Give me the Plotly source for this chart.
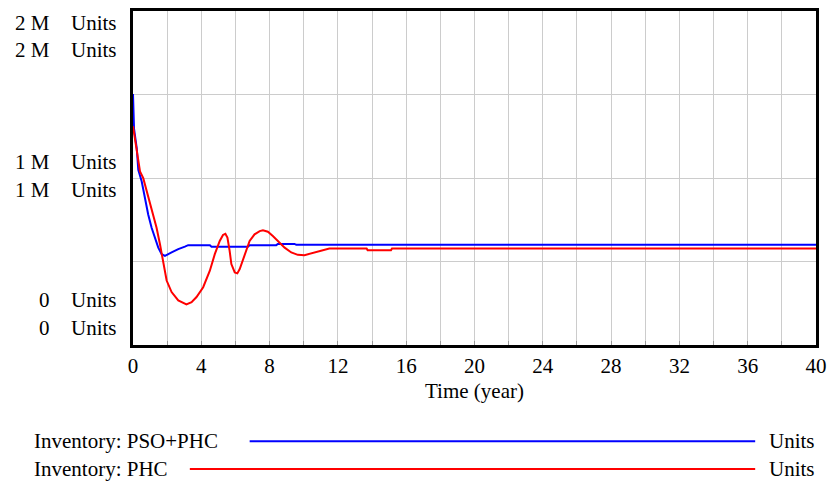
import plotly.graph_objects as go

# Simulation output (Time in years, Inventory in Units)
time_pso_phc = [0, 0.06, 0.22, 0.31, 0.51, 0.70, 0.89, 1.09, 1.28, 1.48, 1.68, 1.87,
                2.26, 2.65, 3.04, 3.23, 4.50, 4.60, 6.73, 6.83, 8.39, 8.48, 9.46, 9.56, 40]
inv_pso_phc = [1503000, 1296000, 1177000, 1049000, 979000, 880000, 782000, 702000,
               643000, 583000, 544000, 534000, 554000, 574000, 589000, 598000, 598000,
               589000, 589000, 598000, 598000, 605000, 605000, 600000, 600000]

time_phc = [0, 0.22, 0.31, 0.41, 0.60, 0.80, 0.99, 1.19, 1.38, 1.58, 1.77, 1.97, 2.26,
            2.65, 3.13, 3.43, 3.72, 4.11, 4.50, 4.79, 5.08, 5.27, 5.41, 5.53, 5.66, 5.76,
            5.96, 6.11, 6.25, 6.54, 6.83, 7.12, 7.42, 7.61, 7.90, 8.19, 8.48, 8.88, 9.27,
            9.65, 10.04, 10.43, 10.82, 11.21, 11.46, 11.50, 13.68, 13.74, 15.11, 15.17, 40]
inv_phc = [1310000, 1157000, 1098000, 1039000, 999000, 920000, 841000, 761000, 702000,
           603000, 485000, 386000, 317000, 267000, 243000, 257000, 287000, 346000,
           445000, 544000, 623000, 659000, 666000, 643000, 564000, 485000, 435000,
           429000, 455000, 544000, 623000, 663000, 682000, 687000, 678000, 653000,
           623000, 583000, 554000, 540000, 538000, 548000, 560000, 570000, 574000,
           578000, 578000, 568000, 568000, 578000, 578000]

x_ticks = list(range(0, 41, 2))
x_tick_text = [str(v) if v % 4 == 0 else "" for v in x_ticks]
y_grid = [0, 500000, 1000000, 1500000, 2000000]
y_labels = [("2 M", 20), ("2 M", 47), ("1 M", 160), ("1 M", 189), ("0", 300), ("0", 328)]
legend_rows = [("Inventory: PSO+PHC", "#0000ff", 442, 250),
               ("Inventory: PHC", "#ff0000", 470, 190)]

W, H = 835, 491
L, R, T, B = 133, 818, 8, 345
FONT = "Liberation Serif, Times New Roman, serif"


def px(x):
    return (x - L) / (R - L)


def py(y):
    return (B - y) / (B - T)


fig = go.Figure()
fig.add_trace(go.Scatter(x=time_pso_phc, y=inv_pso_phc, mode="lines",
                         line=dict(color="#0000ff", width=2), name="Inventory: PSO+PHC"))
fig.add_trace(go.Scatter(x=time_phc, y=inv_phc, mode="lines",
                         line=dict(color="#ff0000", width=2), name="Inventory: PHC"))

annotations = []
for txt, yy in y_labels:
    annotations.append(dict(text=txt, x=px(52), y=py(yy), xref="paper", yref="paper",
                            xanchor="right", yanchor="middle", showarrow=False))
    annotations.append(dict(text="Units", x=px(69), y=py(yy), xref="paper", yref="paper",
                            xanchor="left", yanchor="middle", showarrow=False))

annotations.append(dict(text="Time (year)", x=0.5, y=py(391), xref="paper", yref="paper",
                        xanchor="center", yanchor="middle", showarrow=False))

shapes = []
for name, color, yy, x0 in legend_rows:
    annotations.append(dict(text=name, x=px(32), y=py(yy), xref="paper", yref="paper",
                            xanchor="left", yanchor="middle", showarrow=False))
    annotations.append(dict(text="Units", x=px(819), y=py(yy), xref="paper", yref="paper",
                            xanchor="right", yanchor="middle", showarrow=False))
    shapes.append(dict(type="line", xref="paper", yref="paper", x0=px(x0), x1=px(757),
                       y0=py(yy), y1=py(yy), line=dict(color=color, width=2)))

fig.update_layout(
    width=W, height=H,
    margin=dict(l=L, r=W - R, t=T, b=H - B),
    paper_bgcolor="white", plot_bgcolor="white",
    showlegend=False,
    font=dict(family=FONT, size=21, color="black"),
    annotations=annotations,
    shapes=shapes,
    xaxis=dict(range=[0, 40], tickvals=x_ticks, ticktext=x_tick_text,
               showgrid=True, gridcolor="#cccccc", gridwidth=1,
               showline=True, linecolor="black", linewidth=3, mirror=True,
               ticks="inside", ticklen=4, tickcolor="#999999", zeroline=False,
               tickfont=dict(family=FONT, size=21)),
    yaxis=dict(range=[0, 2000000], tickvals=y_grid, showticklabels=False,
               showgrid=True, gridcolor="#cccccc", gridwidth=1,
               showline=True, linecolor="black", linewidth=3, mirror=True,
               ticks="", zeroline=False),
)

fig.write_html("out.html")
